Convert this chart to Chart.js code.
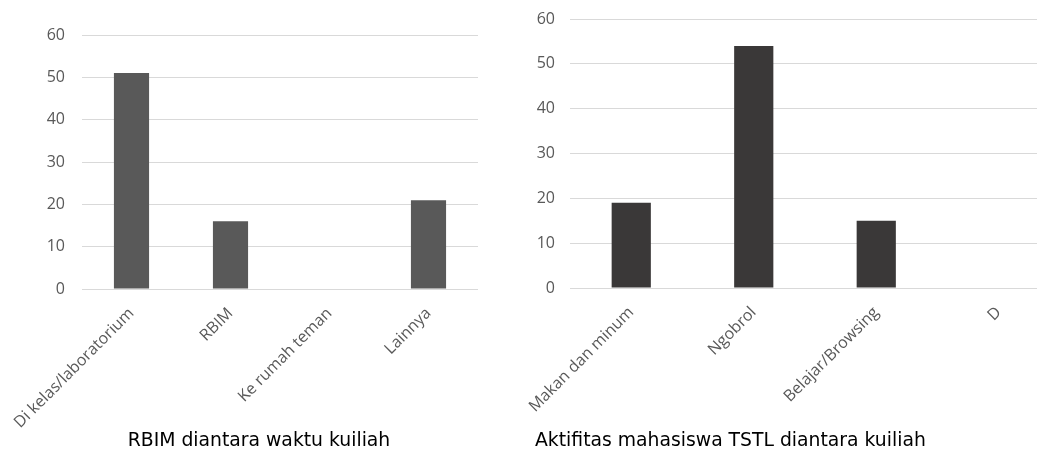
<!DOCTYPE html>
<html>
<head>
<meta charset="utf-8">
<script src="https://cdn.jsdelivr.net/npm/chart.js@4/dist/chart.umd.min.js"></script>
<style>
  html, body { margin: 0; padding: 0; background: #fff; overflow: hidden; width: 1037px; height: 452px; }
  .box { position: absolute; top: 0; height: 452px; }
  #boxA { left: 0; width: 500px; }
  #boxB { left: 520px; width: 545px; }
</style>
</head>
<body>
<div class="box" id="boxA"><canvas id="chartA"></canvas></div>
<div class="box" id="boxB"><canvas id="chartB"></canvas></div>
<script>
// Chart 1: where students go between lectures
const placeLabels = ['Di kelas/laboratorium', 'RBIM', 'Ke rumah teman', 'Lainnya'];
const placeValues = [51, 16, 0, 21];
const placeTitle = 'RBIM diantara waktu kuiliah';

// Chart 2: student activities between lectures
const activityLabels = ['Makan dan minum', 'Ngobrol', 'Belajar/Browsing', 'D'];
const activityValues = [19, 54, 15, 0];
const activityTitle = 'Aktifitas mahasiswa TSTL diantara kuiliah';

const yTicks = [0, 10, 20, 30, 40, 50, 60];

const tickFont = { family: "'Open Sans', sans-serif", size: 16 };
const titleFont = { family: "'DejaVu Sans', sans-serif", size: 18.8, weight: 'normal' };

// fixed axis box sizes; label overhang is allowed to spill into the margins
function fixBox(prop, size) {
  return s => {
    s[prop] = size;
    s.paddingLeft = 0;
    s.paddingRight = 0;
    s.paddingTop = 0;
    s.paddingBottom = 0;
  };
}

function makeChart(id, labels, values, color, title, cfg) {
  return new Chart(document.getElementById(id), {
    type: 'bar',
    data: {
      labels: labels,
      datasets: [{
        data: values,
        backgroundColor: color,
        borderWidth: 0,
        categoryPercentage: 1,
        barPercentage: cfg.barPct
      }]
    },
    options: {
      responsive: true,
      maintainAspectRatio: false,
      animation: false,
      events: [],
      layout: { padding: cfg.padding },
      plugins: {
        legend: { display: false },
        tooltip: { enabled: false },
        title: {
          display: true,
          text: title,
          position: 'bottom',
          align: cfg.titleAlign,
          color: '#000',
          font: titleFont,
          padding: { top: 0, bottom: 0 }
        }
      },
      scales: {
        x: {
          grid: { display: false, drawTicks: false },
          border: { display: false },
          ticks: {
            color: '#595959',
            font: tickFont,
            minRotation: 45,
            maxRotation: 45,
            padding: cfg.xPad,
            autoSkip: false
          },
          afterFit: fixBox('height', cfg.xHeight)
        },
        y: {
          min: 0,
          max: 60,
          afterBuildTicks: s => { s.ticks = yTicks.map(v => ({ value: v })); },
          grid: { color: '#d9d9d9', lineWidth: 1, drawTicks: false },
          border: { display: false },
          ticks: { color: '#595959', font: tickFont, padding: cfg.yPad },
          afterFit: fixBox('width', cfg.yWidth)
        }
      }
    }
  });
}

makeChart('chartA', placeLabels, placeValues, '#595959', placeTitle, {
  padding: { left: 40, right: 22, top: 35, bottom: 0 },
  yWidth: 42, yPad: 17, xPad: 15, xHeight: 140.4, barPct: 0.355, titleAlign: 'center'
});

makeChart('chartB', activityLabels, activityValues, '#3a3838', activityTitle, {
  padding: { left: 15, right: 5, top: 19, bottom: 0 },
  yWidth: 35, yPad: 15, xPad: 15, xHeight: 141.4, barPct: 0.32, titleAlign: 'start'
});
</script>
</body>
</html>
